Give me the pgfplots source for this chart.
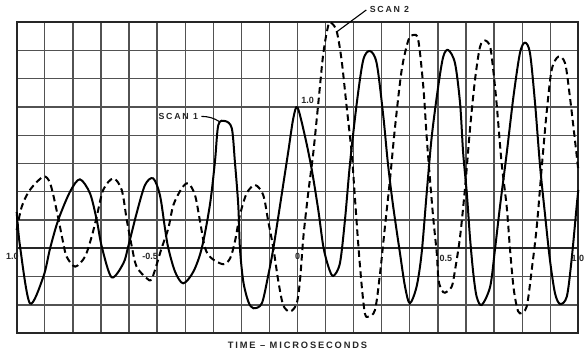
\documentclass[border=0pt]{standalone}
\usepackage{pgfplots}
\usepackage{pgfplotstable}
\pgfplotsset{compat=1.18}
\usepackage{fontspec}
\setmainfont{Liberation Sans}
\newfontfamily\lbl{Liberation Sans Bold}[LetterSpace=20]
\newfontfamily\lbltick{Liberation Sans Bold}

\pgfplotstableread{
x y
-1.000 0.257
-0.988 0.012
-0.953 -0.388
-0.905 -0.200
-0.881 0.001
-0.852 0.201
-0.810 0.401
-0.775 0.488
-0.739 0.389
-0.715 0.201
-0.697 0.012
-0.662 -0.204
-0.620 -0.105
-0.603 0.012
-0.573 0.248
-0.543 0.448
-0.514 0.495
-0.490 0.377
-0.472 0.142
-0.460 0.001
-0.436 -0.165
-0.407 -0.247
-0.371 -0.165
-0.341 0.001
-0.312 0.307
-0.294 0.613
-0.282 0.872
-0.258 0.900
-0.234 0.849
-0.223 0.613
-0.211 0.307
-0.205 0.001
-0.193 -0.235
-0.175 -0.377
-0.157 -0.423
-0.127 -0.388
-0.104 -0.188
-0.086 0.001
-0.062 0.307
-0.033 0.683
-0.015 0.919
0.000 0.996
0.027 0.789
0.051 0.554
0.074 0.271
0.092 0.012
0.110 -0.129
0.127 -0.195
0.151 -0.105
0.169 0.201
0.187 0.601
0.211 1.025
0.234 1.331
0.258 1.395
0.282 1.308
0.305 0.945
0.322 0.600
0.340 0.307
0.365 -0.035
0.383 -0.271
0.400 -0.388
0.424 -0.271
0.442 -0.035
0.460 0.389
0.478 0.789
0.501 1.143
0.519 1.355
0.537 1.402
0.561 1.308
0.579 1.025
0.590 0.672
0.603 0.389
0.614 0.083
0.626 -0.176
0.638 -0.341
0.656 -0.400
0.686 -0.271
0.703 -0.011
0.721 0.295
0.745 0.672
0.769 1.072
0.792 1.379
0.810 1.454
0.828 1.379
0.846 1.025
0.864 0.577
0.881 0.248
0.899 -0.082
0.917 -0.317
0.935 -0.393
0.959 -0.341
0.976 -0.082
0.994 0.295
1.000 0.413
}\scanone

\pgfplotstableread{
x y
-1.000 0.130
-0.982 0.295
-0.953 0.413
-0.905 0.507
-0.881 0.460
-0.858 0.271
-0.834 0.036
-0.822 -0.059
-0.792 -0.129
-0.757 -0.059
-0.733 0.083
-0.715 0.224
-0.692 0.413
-0.656 0.495
-0.626 0.413
-0.608 0.201
-0.590 0.012
-0.573 -0.129
-0.537 -0.211
-0.518 -0.211
-0.484 0.001
-0.460 0.142
-0.442 0.307
-0.412 0.425
-0.389 0.460
-0.365 0.377
-0.347 0.189
-0.329 0.001
-0.306 -0.070
-0.264 -0.112
-0.240 -0.070
-0.223 0.047
-0.205 0.236
-0.181 0.389
-0.151 0.448
-0.122 0.377
-0.104 0.189
-0.086 0.001
-0.068 -0.235
-0.051 -0.400
-0.027 -0.447
-0.003 -0.390
0.009 -0.223
0.021 0.083
0.038 0.389
0.056 0.672
0.074 1.025
0.092 1.379
0.110 1.579
0.122 1.591
0.140 1.531
0.157 1.331
0.175 1.001
0.193 0.672
0.205 0.342
0.217 0.012
0.229 -0.271
0.240 -0.459
0.252 -0.483
0.276 -0.435
0.294 -0.176
0.312 0.165
0.329 0.480
0.347 0.851
0.371 1.261
0.395 1.473
0.412 1.508
0.430 1.473
0.448 1.143
0.460 0.789
0.472 0.483
0.484 0.201
0.496 -0.035
0.502 -0.223
0.514 -0.294
0.525 -0.313
0.549 -0.271
0.561 -0.153
0.579 0.083
0.597 0.436
0.614 0.837
0.632 1.190
0.650 1.425
0.668 1.469
0.686 1.425
0.697 1.261
0.709 1.025
0.727 0.601
0.745 0.295
0.757 -0.011
0.769 -0.271
0.781 -0.412
0.792 -0.459
0.816 -0.412
0.834 -0.153
0.852 0.153
0.870 0.577
0.887 0.955
0.905 1.261
0.929 1.355
0.953 1.308
0.970 1.072
0.988 0.766
1.000 0.554
}\scantwo

\tikzset{
  lab/.style={font=\lbl\fontsize{8.8}{10}\selectfont, text=black!85},
  ttl/.style={font=\lbl\fontsize{9.3}{11}\selectfont, text=black!85},
  tl/.style={font=\lbltick\fontsize{9}{10}\selectfont, text=black!85, inner sep=0.5pt},
}

\begin{document}
\begin{tikzpicture}
\useasboundingbox (0,0) rectangle (585pt,355pt);
\begin{axis}[
  at={(16.7pt,21.7pt)}, anchor=south west,
  scale only axis, width=561.6pt, height=311.3pt,
  xmin=-1, xmax=1, ymin=-0.6, ymax=1.6,
  xtick distance=0.1, ytick distance=0.2,
  xticklabel=\empty, yticklabel=\empty,
  major tick length=0pt,
  grid=major,
  grid style={draw=black!68, line width=1.3pt},
  axis line style={line width=1.8pt, black!85},
  clip=false,
]
\addplot[black!85, line width=2.2pt] coordinates {(-1,0) (1,0)};
\addplot[black, line width=2pt, smooth, tension=0.5] table[x=x,y=y] {\scanone};
\addplot[black, line width=2pt, smooth, tension=0.5, dash pattern=on 6.5pt off 4pt] table[x=x,y=y] {\scantwo};
\node[lab, anchor=east] at (axis cs:-0.342,0.933) {SCAN 1};
\draw[black, line width=1.1pt] (axis cs:-0.342,0.933) to[bend left=15] (axis cs:-0.277,0.895);
\node[lab, anchor=west] at (axis cs:0.245,1.685) {SCAN 2};
\draw[black, line width=1.1pt] (axis cs:0.245,1.685) -- (axis cs:0.140,1.531);
\node[tl, fill=white] at (axis cs:0.036,1.045) {1.0};
\node[tl] at (axis cs:-1.015,-0.059) {1.0};
\node[tl] at (axis cs:-0.525,-0.054) {-0.5};
\node[tl] at (axis cs:0,-0.06) {0};
\node[tl] at (axis cs:0.528,-0.068) {0.5};
\node[tl, anchor=east] at (axis cs:1.023,-0.068) {1.0};
\node[ttl] at (axis cs:0,-0.685) {TIME – MICROSECONDS};
\end{axis}
\end{tikzpicture}
\end{document}
